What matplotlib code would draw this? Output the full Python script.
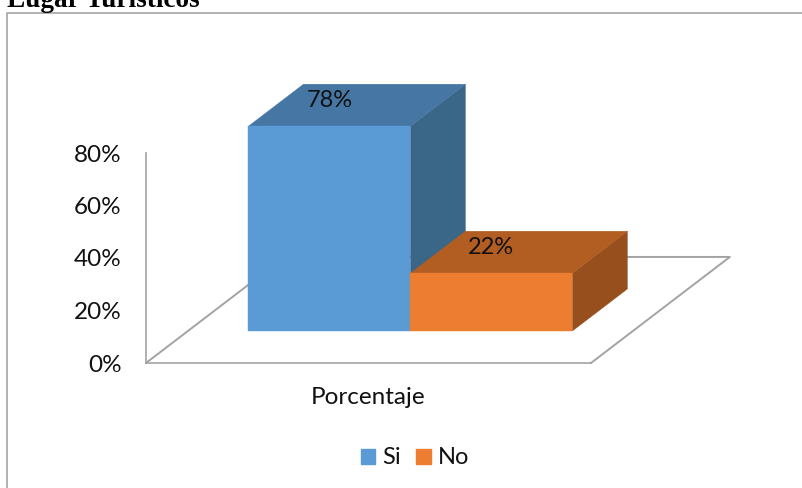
import matplotlib
matplotlib.use("Agg")
import matplotlib.pyplot as plt
from matplotlib.lines import Line2D
from matplotlib.patches import Patch, Polygon

plt.rcParams["font.family"] = ["Lato", "DejaVu Sans"]

# Data
series = ["Si", "No"]
values = [78, 22]
category = "Porcentaje"
y_ticks = [0, 20, 40, 60, 80]
title = "Lugar Turísticos"

front_colors = ["#5B9BD5", "#ED7D31"]
top_colors = ["#4676A3", "#B25D22"]
side_colors = ["#3A6688", "#964F1D"]
grey = "#A3A3A3"

W, H = 803, 488
fig = plt.figure(figsize=(W / 100, H / 100), dpi=100)
ax = fig.add_axes([146 / W, 1 - 363 / H, 445 / W, 210 / H])
ax.set_xlim(-0.5, 0.5)
ax.set_ylim(0, 80)

# oblique projection for the fake 3d look
depth_x = 0.312
depth_y = 40.4
bar_width = 0.364
d_front, d_back = 0.302, 0.698


def proj(x, v, d):
    return (x + d * depth_x, v + d * depth_y)


def face(points, color, z):
    ax.add_patch(Polygon([proj(*p) for p in points], closed=True, fc=color,
                         ec=color, lw=0.3, clip_on=False, zorder=z))


# floor
floor = [(-0.5, 0, 1), (0.5, 0, 1), (0.5, 0, 0)]
ax.plot(*zip(*[proj(*p) for p in floor]), color=grey, lw=1.4, clip_on=False, zorder=1)
ax.plot(*zip(*[proj(-0.5, 0, d) for d in (0, 1)]), color=grey, lw=1.4, clip_on=False, zorder=1)

# bars
for i, (name, v) in enumerate(zip(series, values)):
    x0 = (i - 1) * bar_width
    x1 = x0 + bar_width
    face([(x1, 0, d_front), (x1, 0, d_back), (x1, v, d_back), (x1, v, d_front)],
         side_colors[i], 3)
    face([(x0, v, d_front), (x1, v, d_front), (x1, v, d_back), (x0, v, d_back)],
         top_colors[i], 3)
    face([(x0, 0, d_front), (x1, 0, d_front), (x1, v, d_front), (x0, v, d_front)],
         front_colors[i], 4)
    cx, cy = proj((x0 + x1) / 2, v, d_front)
    ax.text(cx, cy + 9.7, f"{v}%", ha="center", va="center", fontsize=17,
            color="#111111", zorder=5, clip_on=False)

for s in ["top", "right"]:
    ax.spines[s].set_visible(False)
for s in ["left", "bottom"]:
    ax.spines[s].set_color(grey)
    ax.spines[s].set_linewidth(1.2)

ax.set_yticks(y_ticks)
ax.set_yticklabels([f"{t}%" for t in y_ticks], fontsize=17.5, color="#111111")
ax.set_xticks([0])
ax.set_xticklabels([category], fontsize=17.5, color="#111111")
ax.tick_params(axis="both", length=0)
ax.tick_params(axis="y", pad=17.5)
ax.tick_params(axis="x", pad=17)

handles = [Patch(fc=c, ec=c, label=n) for n, c in zip(series, front_colors)]
fig.legend(handles=handles, loc="center", bbox_to_anchor=(415 / W, 1 - 458 / H),
           ncol=2, frameon=False, fontsize=17, handlelength=0.62, handleheight=0.62,
           handletextpad=0.3, columnspacing=0.63, labelcolor="#111111")

# outer chart frame, cut off by the image edge
fig.add_artist(Line2D([7.5 / W, 7.5 / W, 1], [0, 1 - 13 / H, 1 - 13 / H], color=grey, lw=1.2))
fig.text(7 / W, 1 - 7 / H, title, family="Liberation Serif", weight="bold", fontsize=19.6,
         color="black", ha="left", va="baseline")

fig.savefig("out.png", dpi=100)
